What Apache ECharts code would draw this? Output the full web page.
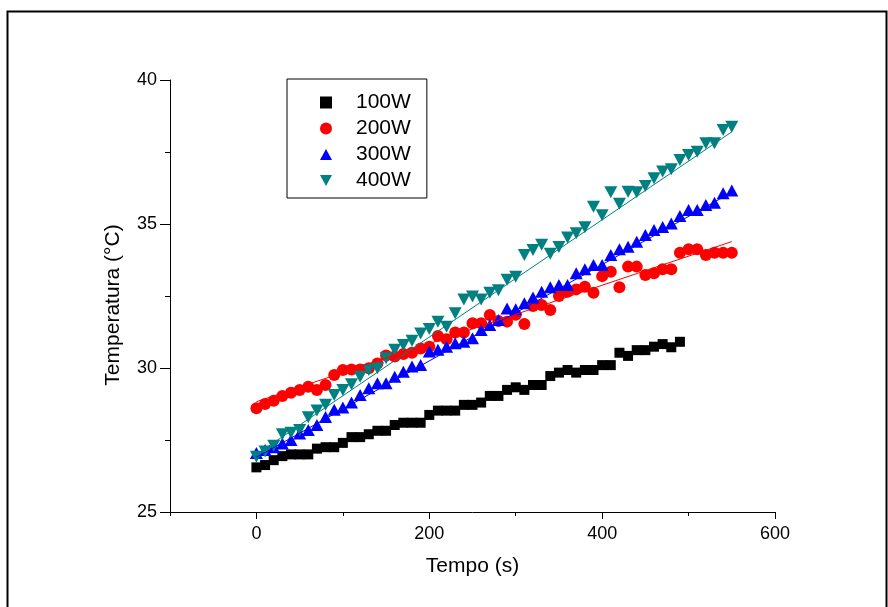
<!DOCTYPE html>
<html><head><meta charset="utf-8">
<script src="https://cdn.jsdelivr.net/npm/echarts@6/dist/echarts.min.js"></script>
<style>html,body{margin:0;padding:0;background:#fff}#c{width:888px;height:607px}</style>
</head><body><div id="c"></div><script>
const seriesNames = ['100W', '200W', '300W', '400W'];
const tempo100 = [0,10,20,30,40,50,60,70,80,90,100,110,120,130,140,150,160,170,180,190,200,210,220,230,240,250,260,270,280,290,300,310,320,330,340,350,360,370,380,390,400,410,420,430,440,450,460,470,480,490];
const tempo = [0,10,20,30,40,50,60,70,80,90,100,110,120,130,140,150,160,170,180,190,200,210,220,230,240,250,260,270,280,290,300,310,320,330,340,350,360,370,380,390,400,410,420,430,440,450,460,470,480,490,500,510,520,530,540,550];
const temp100 = [26.55,26.63,26.8,26.94,27.0,27.0,27.0,27.2,27.25,27.25,
  27.4,27.6,27.6,27.7,27.82,27.82,28.02,28.1,28.1,28.1,
  28.37,28.52,28.52,28.52,28.72,28.72,28.8,29.03,29.03,29.24,
  29.33,29.24,29.41,29.41,29.72,29.84,29.93,29.84,29.93,29.93,
  30.1,30.1,30.53,30.42,30.62,30.62,30.74,30.83,30.72,30.91];
const temp200 = [28.6,28.75,28.86,29.03,29.14,29.24,29.35,29.24,29.41,29.76,
  29.93,29.95,29.95,29.99,30.16,30.43,30.40,30.49,30.53,30.68,
  30.74,31.11,31.0,31.23,31.23,31.55,31.55,31.84,31.63,31.61,
  31.85,31.53,32.15,32.19,32.01,32.5,32.65,32.73,32.82,32.61,
  33.19,33.34,32.8,33.52,33.52,33.23,33.29,33.43,33.43,34.0,
  34.12,34.12,33.92,34.0,34.0,34.0];
const temp300 = [27.05,27.15,27.25,27.38,27.5,27.73,27.85,28.02,28.3,28.55,
  28.63,28.8,29.06,29.3,29.47,29.47,29.7,29.87,30.05,30.1,
  30.57,30.63,30.74,30.86,30.91,31.03,31.32,31.49,31.67,32.07,
  32.04,32.25,32.45,32.65,32.8,32.88,32.88,33.29,33.43,33.58,
  33.58,33.92,34.12,34.21,34.38,34.62,34.79,34.9,35.02,35.28,
  35.49,35.49,35.66,35.74,36.07,36.16];
const temp400 = [26.92,27.1,27.3,27.7,27.75,27.85,28.29,28.52,28.72,29.06,
  29.24,29.44,29.7,29.93,29.99,30.34,30.63,30.8,30.95,31.2,
  31.35,31.61,31.43,31.9,32.38,32.48,32.38,32.61,32.7,33.06,
  33.17,33.92,34.1,34.28,33.97,34.2,34.53,34.68,34.89,35.6,
  35.3,36.1,35.7,36.12,36.1,36.32,36.59,36.82,36.9,37.22,
  37.4,37.51,37.8,37.8,38.26,38.38];
// fitted straight lines (end points)
const fitTempo = [0, 550];
const fit200 = [28.83, 34.39];
const fit300 = [26.9, 36.1];
const fit400 = [27.0, 38.2];
const xMajorTicks = [0, 200, 400, 600];
const xMinorTicks = [-100, 100, 300, 500];

const FONT = 'Liberation Sans, Arial, sans-serif';
const zip = (xs, ys) => xs.map((x, i) => [x, ys[i]]);
const colors = ['#000000', '#ff0000', '#0000ff', '#008080'];
const triUp = 'path://M5,0 L10,9 L0,9 Z';
const triDown = 'path://M0,0 L10,0 L5,9 Z';

const chart = echarts.init(document.getElementById('c'), null, {renderer: 'canvas'});
chart.setOption({
  animation: false,
  backgroundColor: '#fff',
  graphic: [{
    type: 'rect', left: 5, top: 9, z: 0,
    shape: {width: 879, height: 640},
    style: {fill: 'none', stroke: '#000', lineWidth: 2}
  }],
  grid: {left: 170, right: 113, top: 80, bottom: 95},
  legend: {
    orient: 'vertical', left: 287, top: 79,
    padding: [13, 16, 7, 33],
    itemWidth: 12, itemHeight: 12, itemGap: 5,
    borderColor: '#000', borderWidth: 1,
    data: seriesNames,
    textStyle: {fontSize: 21, lineHeight: 21, color: '#000', fontFamily: FONT, padding: [0, 0, 0, 19]}
  },
  xAxis: [{
    type: 'value', min: -100, max: 600,
    axisLine: {show: true, onZero: false, lineStyle: {color: '#000', width: 1}},
    axisTick: {show: true, customValues: xMajorTicks, length: 7, lineStyle: {color: '#000'}},
    axisLabel: {customValues: xMajorTicks, fontSize: 18, color: '#000', margin: 13, fontFamily: FONT},
    splitLine: {show: false},
    name: 'Tempo (s)', nameLocation: 'middle', nameGap: 44,
    nameTextStyle: {fontSize: 21, color: '#000', fontFamily: FONT}
  }, {
    type: 'value', min: -100, max: 600, position: 'bottom', offset: 0,
    axisLine: {show: false},
    axisTick: {show: true, customValues: xMinorTicks, length: 4, lineStyle: {color: '#000'}},
    axisLabel: {show: false},
    splitLine: {show: false}
  }],
  yAxis: {
    type: 'value', min: 25, max: 40, interval: 5,
    axisLine: {show: true, onZero: false, lineStyle: {color: '#000', width: 1}},
    axisTick: {show: true, length: 10, lineStyle: {color: '#000'}},
    minorTick: {show: true, splitNumber: 2, length: 5, lineStyle: {color: '#000'}},
    axisLabel: {fontSize: 18, color: '#000', margin: 13, fontFamily: FONT},
    splitLine: {show: false},
    name: 'Temperatura (°C)', nameLocation: 'middle', nameGap: 46,
    nameTextStyle: {fontSize: 21, color: '#000', fontFamily: FONT, padding: [0, 18, 0, 0]}
  },
  series: [
    {name: '100W', type: 'scatter', symbol: 'rect', symbolSize: 10, itemStyle: {color: colors[0], opacity: 1}, data: zip(tempo100, temp100), z: 2},
    {name: '200W', type: 'scatter', symbol: 'circle', symbolSize: 12, itemStyle: {color: colors[1], opacity: 1}, data: zip(tempo, temp200), z: 3},
    {name: '300W', type: 'scatter', symbol: triUp, symbolSize: [13, 12], itemStyle: {color: colors[2], opacity: 1}, data: zip(tempo, temp300), z: 4},
    {name: '400W', type: 'scatter', symbol: triDown, symbolSize: [13, 12], itemStyle: {color: colors[3], opacity: 1}, data: zip(tempo, temp400), z: 5},
    {type: 'line', data: zip(fitTempo, fit200), symbol: 'none', lineStyle: {color: colors[1], width: 1}, z: 6, silent: true},
    {type: 'line', data: zip(fitTempo, fit300), symbol: 'none', lineStyle: {color: colors[2], width: 1}, z: 6, silent: true},
    {type: 'line', data: zip(fitTempo, fit400), symbol: 'none', lineStyle: {color: colors[3], width: 1}, z: 6, silent: true}
  ]
});
</script></body></html>
